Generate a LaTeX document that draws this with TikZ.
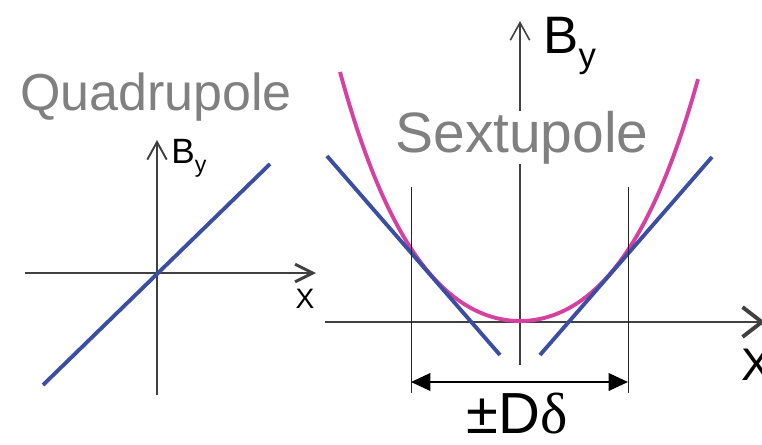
\documentclass[tikz,border=0pt]{standalone}
\usepackage{fontspec}
\setmainfont{Liberation Sans}
\newfontfamily\symfont{Liberation Serif}
\usepackage{graphicx}
\usepackage{tikz}
\usetikzlibrary{arrows.meta, positioning, calc}
\usepackage{xcolor}
\definecolor{lineblue}{RGB}{59,78,163}
\definecolor{curvepink}{RGB}{214,64,160}
\definecolor{titlegray}{RGB}{128,128,128}
\newcommand{\Bsub}{B\raisebox{-0.27em}{\scalebox{0.66}{y}}}

\tikzset{
  axis/.style={black!75, line width=0.6pt},
  guide/.style={black!85, line width=0.5pt},
  fit line/.style={lineblue, line width=2.2pt},
  title/.style={titlegray, inner sep=0pt, anchor=base},
  lbl/.style={inner sep=0pt, anchor=base west}
}

\begin{document}
\begin{tikzpicture}[x=0.02cm, y=-0.02cm]
  \useasboundingbox (0,0) rectangle (762,444);
  % Quadrupole
  \node[title, font=\fontsize{29.6}{30}\selectfont] (quadtitle) at (156,110) {Quadrupole};
  \coordinate (qxl) at (25,273);
  \coordinate (qxr) at (316,273);
  \coordinate (qyb) at (157,395);
  \coordinate (qyt) at (157,140);
  \draw[axis, -{Straight Barb[length=10pt, width=10pt, line width=1.7pt]}] (qxl) -- (qxr);
  \draw[axis, -{Straight Barb[length=10pt, width=11pt, line width=1.1pt]}] (qyb) -- (qyt);
  \node[lbl, font=\fontsize{20}{21}\selectfont] (qby) at (171,163) {\Bsub};
  \node[title, black, font=\fontsize{16}{17}\selectfont] (qx) at (305,308) {X};
  \draw[fit line] (43,385) -- (270,164);
  % Sextupole
  \coordinate (sxl) at (325,322);
  \coordinate (sxr) at (765,322);
  \coordinate (syb) at (520,365);
  \coordinate (syt) at (520,21);
  \draw[axis, -{Straight Barb[length=11pt, width=17pt, line width=2.2pt]}] (sxl) -- (sxr);
  \draw[axis, -{Straight Barb[length=10pt, width=11pt, line width=0.9pt]}] (syb) -- (syt);
  \node[title, fill=white, font=\fontsize{32.4}{33}\selectfont] (sexttitle) at (522,152) {Sextupole};
  \node[lbl, font=\fontsize{30}{31}\selectfont] (sby) at (543,53) {\Bsub};
  \node[lbl, font=\fontsize{26}{27}\selectfont] (sx) at (741,380) {X};
  \draw[curvepink, line width=2.2pt] plot[domain=-180:178, samples=90, smooth]
    ({520+\x}, {321-51.9*(\x/100)^2-7.71*(\x/100)^4});
  \draw[fit line] (327,156) -- (500,355);
  \draw[fit line] (540,355) -- (712,157);
  % dispersion width
  \coordinate (dl) at (411,382);
  \coordinate (dr) at (628,382);
  \draw[guide] (411,187) -- (411,393);
  \draw[guide] (628,187) -- (628,393);
  \draw[line width=1pt, {Triangle[length=11pt, width=10pt]}-{Triangle[length=11pt, width=10pt]}] (dl) -- (dr);
  \node[title, black, font=\fontsize{33}{34}\selectfont] (spread) at (517,433) {±D{\symfont δ}};
\end{tikzpicture}
\end{document}
